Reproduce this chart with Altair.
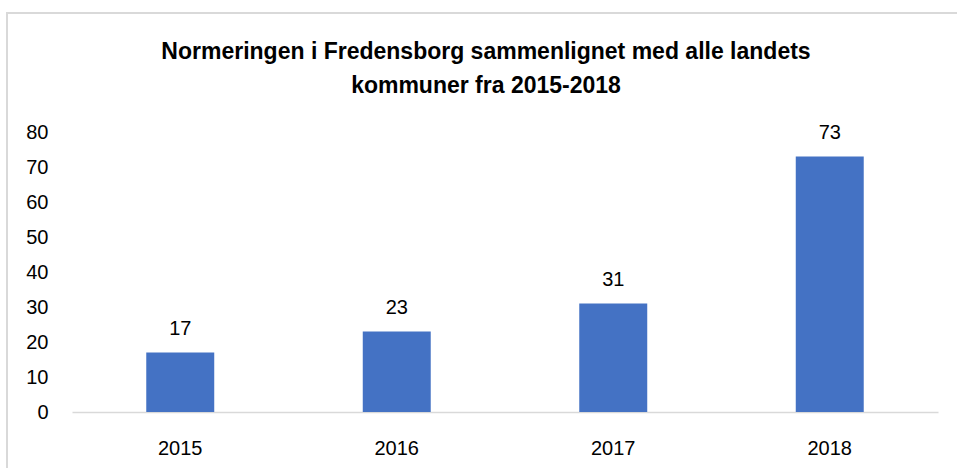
import altair as alt
import pandas as pd

years = ["2015", "2016", "2017", "2018"]
values = [17, 23, 31, 73]
title_lines = ["Normeringen i Fredensborg sammenlignet med alle landets", "kommuner fra 2015-2018"]

df = pd.DataFrame({"year": years, "value": values})
FONT = "Liberation Sans"

x = alt.X("year:N", sort=years, title=None,
          scale=alt.Scale(paddingInner=0.686, paddingOuter=0.343),
          axis=alt.Axis(labelAngle=0, domainColor="#D9D9D9", domainWidth=1.5, ticks=False,
                        labelPadding=26, labelFontSize=20, labelColor="#000000", labelFont=FONT))
y = alt.Y("value:Q", title=None,
          scale=alt.Scale(domain=[0, 80]),
          axis=alt.Axis(values=list(range(0, 81, 10)), grid=False, domain=False, ticks=False,
                        labelOverlap=False, labelPadding=24, labelFontSize=20,
                        labelColor="#000000", labelFont=FONT))

bars = alt.Chart(df).mark_bar(color="#4472C4").encode(x=x, y=y)
labels = alt.Chart(df).mark_text(baseline="bottom", dy=-14, fontSize=20, font=FONT, color="#000000").encode(
    x=x, y=y, text=alt.Text("value:Q"))

border = alt.Chart(alt.Data(values=[{}])).mark_rect(
    fill=None, stroke="#D9D9D9", strokeWidth=2, clip=False).encode(
    x=alt.value(-65), x2=alt.value(920), y=alt.value(-119), y2=alt.value(400))

title = alt.Chart(alt.Data(values=[{}])).mark_text(
    text=title_lines, fontSize=23, fontWeight="bold", font=FONT, color="#000000",
    lineHeight=34, align="center", baseline="middle").encode(
    x=alt.value(414), y=alt.value(-80))

chart = alt.layer(border, title, bars, labels).properties(
    width=866, height=280,
    padding={"left": 72, "top": 132, "right": 19, "bottom": 56},
    autosize=alt.AutoSizeParams(type="none"),
    background="white",
).configure_view(stroke=None)

chart.save("out.html", embed_options={"renderer": "svg", "actions": False})
